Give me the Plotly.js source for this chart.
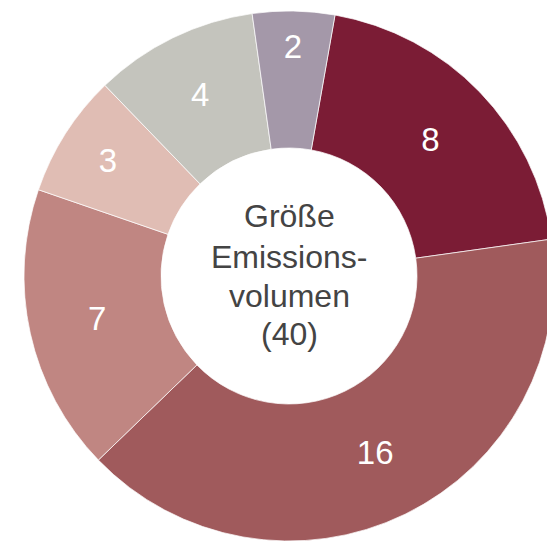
<!DOCTYPE html>
<html>
<head>
<meta charset="utf-8">
<script src="https://cdn.plot.ly/plotly-3.0.1.min.js"></script>
<style>
html, body { margin:0; padding:0; width:547px; height:544px; overflow:hidden; background:#fff; }
#chart { position:absolute; left:24px; top:11px; width:530px; height:530px; }
</style>
</head>
<body>
<div id="chart"></div>
<script>
const categories = ["A", "B", "C", "D", "E", "F"];
const values = [8, 16, 7, 3, 4, 2];
const colors = ["#7b1c35", "#a05a5c", "#c08682", "#e0bdb4", "#c4c4bd", "#a498a9"];
const centerLines = ["Größe", "Emissions-", "volumen", "(40)"];

const W = 530, H = 530, top0 = 11;
const centerY = [216, 257, 296, 334];

const trace = {
  type: 'pie',
  labels: categories,
  values: values,
  sort: false,
  direction: 'clockwise',
  rotation: 10,
  hole: 0.483,
  marker: { colors: colors, line: { color: 'rgba(255,255,255,0.7)', width: 1 } },
  textinfo: 'value',
  textposition: 'inside',
  insidetextorientation: 'horizontal',
  textfont: { family: 'Liberation Sans, Arial, sans-serif', size: 33, color: '#ffffff' },
  showlegend: false,
  hoverinfo: 'none'
};

const annotations = centerLines.map((t, i) => ({
  text: t,
  x: 0.5, xref: 'paper', xanchor: 'center',
  y: 1 - (centerY[i] - top0) / H, yref: 'paper', yanchor: 'middle',
  showarrow: false,
  font: { family: 'Liberation Sans, Arial, sans-serif', size: 32, color: '#444444' }
}));

Plotly.newPlot('chart', [trace], {
  width: W, height: H,
  margin: { l: 0, r: 0, t: 0, b: 0 },
  paper_bgcolor: 'rgba(0,0,0,0)',
  plot_bgcolor: 'rgba(0,0,0,0)',
  annotations: annotations,
  showlegend: false
}, { displayModeBar: false, staticPlot: true });
</script>
</body>
</html>
